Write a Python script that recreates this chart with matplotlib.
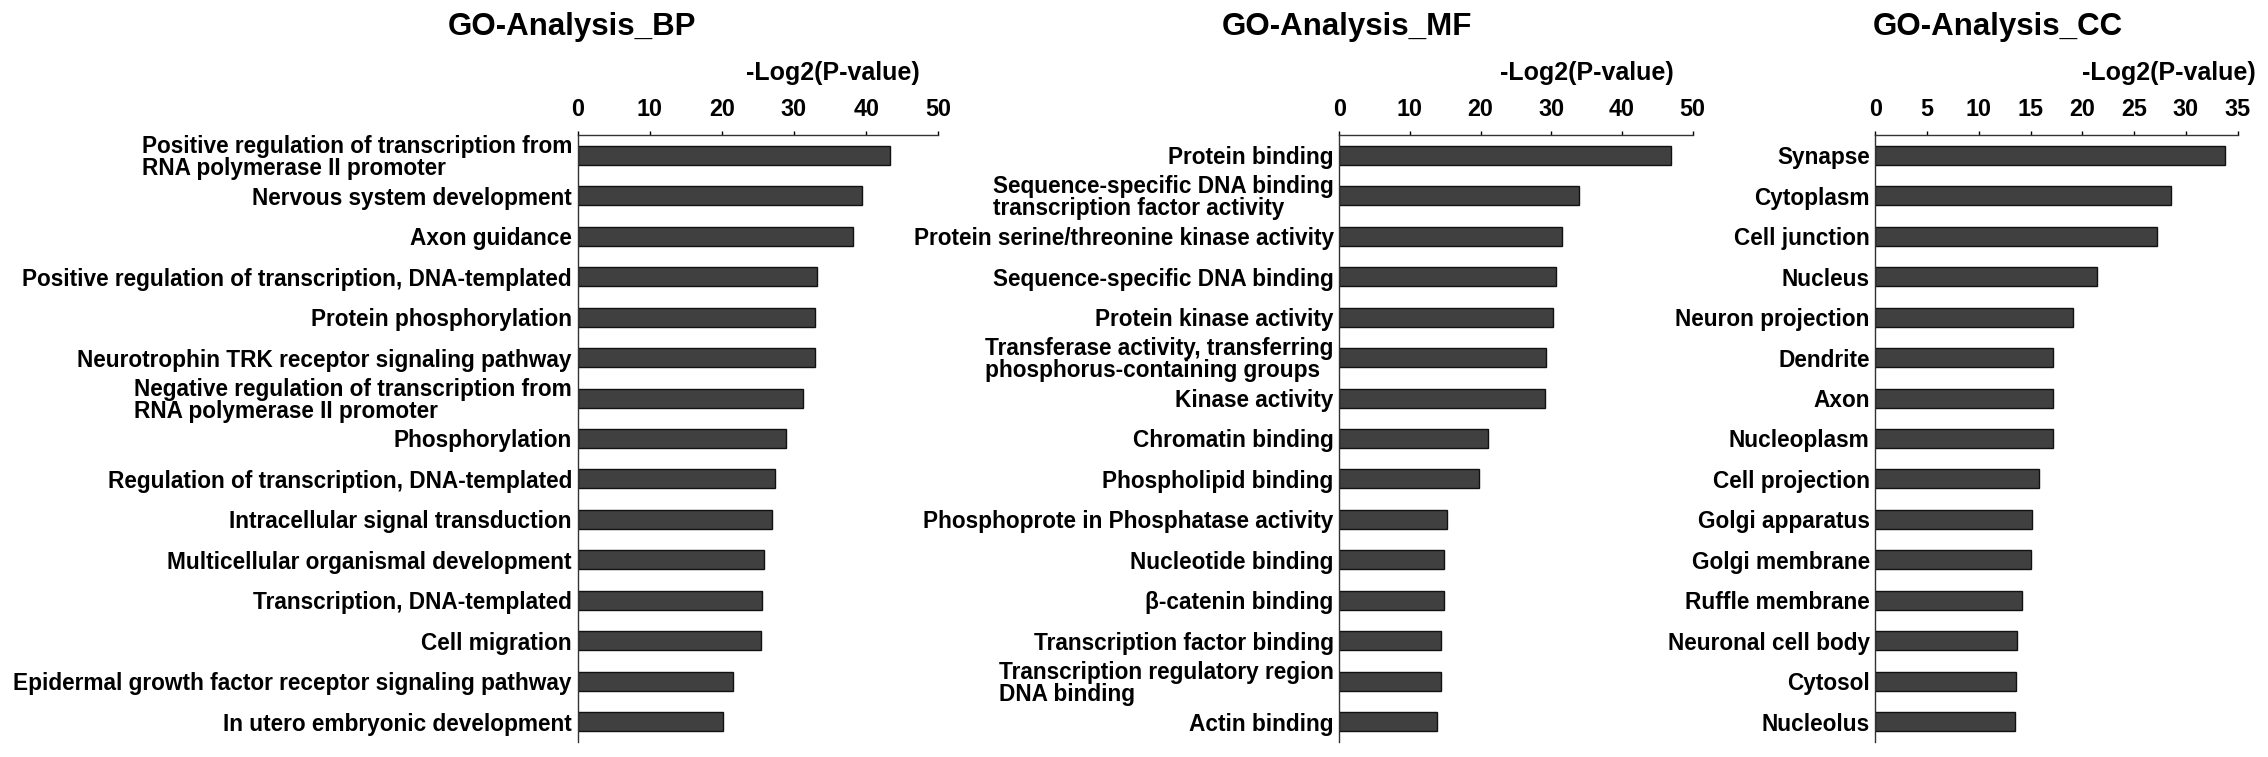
import matplotlib
matplotlib.use('Agg')
import matplotlib.pyplot as plt

plt.rcParams['font.family'] = ['Liberation Sans', 'DejaVu Sans']
plt.rcParams['font.weight'] = 'bold'

bp_terms = [
    "Positive regulation of transcription from\nRNA polymerase II promoter",
    "Nervous system development",
    "Axon guidance",
    "Positive regulation of transcription, DNA-templated",
    "Protein phosphorylation",
    "Neurotrophin TRK receptor signaling pathway",
    "Negative regulation of transcription from\nRNA polymerase II promoter",
    "Phosphorylation",
    "Regulation of transcription, DNA-templated",
    "Intracellular signal transduction",
    "Multicellular organismal development",
    "Transcription, DNA-templated",
    "Cell migration",
    "Epidermal growth factor receptor signaling pathway",
    "In utero embryonic development",
]
bp_values = [43.3, 39.4, 38.2, 33.2, 32.9, 32.9, 31.2, 28.9, 27.4, 27.0, 25.8, 25.6, 25.4, 21.5, 20.1]

mf_terms = [
    "Protein binding",
    "Sequence-specific DNA binding\ntranscription factor activity",
    "Protein serine/threonine kinase activity",
    "Sequence-specific DNA binding",
    "Protein kinase activity",
    "Transferase activity, transferring\nphosphorus-containing groups",
    "Kinase activity",
    "Chromatin binding",
    "Phospholipid binding",
    "Phosphoprote in Phosphatase activity",
    "Nucleotide binding",
    "\u03b2-catenin binding",
    "Transcription factor binding",
    "Transcription regulatory region\nDNA binding",
    "Actin binding",
]
mf_values = [46.9, 33.9, 31.5, 30.6, 30.2, 29.3, 29.1, 21.1, 19.8, 15.2, 14.8, 14.8, 14.4, 14.4, 13.8]

cc_terms = [
    "Synapse", "Cytoplasm", "Cell junction", "Nucleus", "Neuron projection",
    "Dendrite", "Axon", "Nucleoplasm", "Cell projection", "Golgi apparatus",
    "Golgi membrane", "Ruffle membrane", "Neuronal cell body", "Cytosol", "Nucleolus",
]
cc_values = [33.75, 28.56, 27.24, 21.44, 19.12, 17.16, 17.16, 17.16, 15.84, 15.17, 15.04, 14.14, 13.72, 13.62, 13.46]

titles = ["GO-Analysis_BP", "GO-Analysis_MF", "GO-Analysis_CC"]
xlabel = "-Log2(P-value)"
bp_ticks = [0, 10, 20, 30, 40, 50]
mf_ticks = [0, 10, 20, 30, 40, 50]
cc_ticks = [0, 5, 10, 15, 20, 25, 30, 35]

W, H = 2268, 757
fig = plt.figure(figsize=(W / 100, H / 100), dpi=100)

panels = [
    (bp_terms, bp_values, bp_ticks, 577.5, 938.3, 448, 746),
    (mf_terms, mf_values, mf_ticks, 1339.3, 1692.7, 1222, 1500),
    (cc_terms, cc_values, cc_ticks, 1875.3, 2237.7, 1873, 2082),
]
top_px, bot_px = 135, 742

for (terms, vals, ticks, x0, x1, tx, lx), title in zip(panels, titles):
    ax = fig.add_axes([x0 / W, 1 - bot_px / H, (x1 - x0) / W, (bot_px - top_px) / H])
    ypos = list(range(len(terms)))
    ax.barh(ypos, vals, height=0.47, color='#404040', edgecolor='#111111', linewidth=1.0)
    ax.set_ylim(len(terms) - 0.5, -0.5)
    ax.set_xlim(ticks[0], ticks[-1])
    ax.set_xticks(ticks)
    ax.xaxis.tick_top()
    ax.set_yticks(ypos)
    ax.set_yticklabels(terms, fontsize=16.3, fontweight='bold', multialignment='left', linespacing=0.95)
    ax.tick_params(axis='y', length=0, pad=4)
    ax.tick_params(axis='x', length=3, width=1, pad=7, labelsize=16.8, colors='black')
    for lab in ax.get_xticklabels():
        lab.set_fontweight('bold')
    ax.spines['right'].set_visible(False)
    ax.spines['bottom'].set_visible(False)
    ax.spines['top'].set_linewidth(1.0)
    ax.spines['left'].set_linewidth(1.0)
    ax.spines['top'].set_color('#333333')
    ax.spines['left'].set_color('#333333')
    fig.text(tx / W, 1 - 35 / H, title, ha='left', va='baseline', fontsize=22.5, fontweight='bold')
    fig.text(lx / W, 1 - 80 / H, xlabel, ha='left', va='baseline', fontsize=18, fontweight='bold')

fig.savefig('out.png', dpi=100, facecolor='white')
